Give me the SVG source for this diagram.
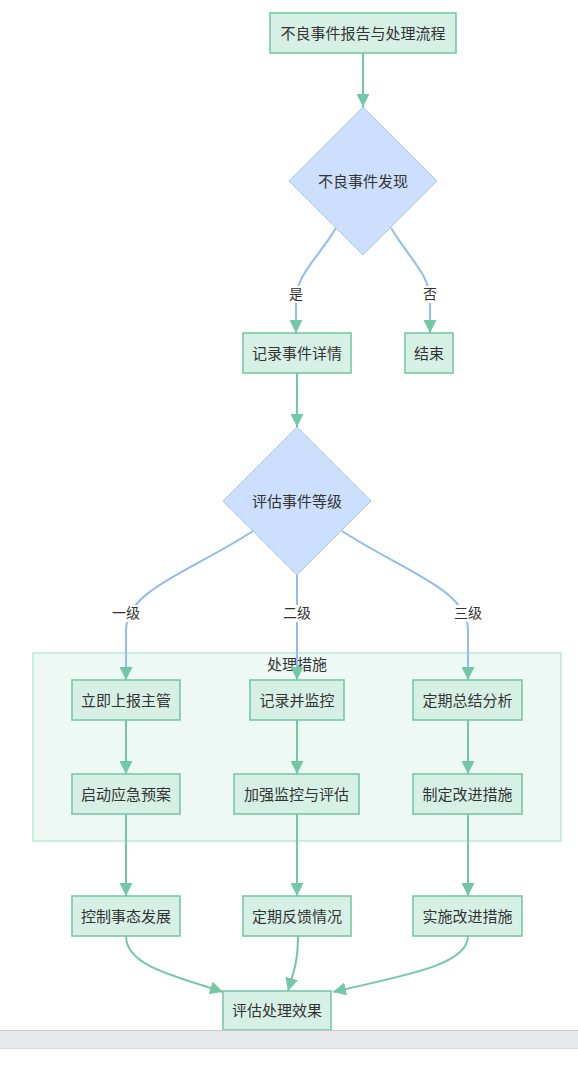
<svg xmlns="http://www.w3.org/2000/svg" width="578" height="1070" viewBox="0 0 578 1070">
<style>
.node rect{fill:#d6f0e6;stroke:#6fc6a2;stroke-width:1.5}
.dec polygon{fill:#cce0fd;stroke:#a6c8f5;stroke-width:1}
text{font-family:"Liberation Sans","Noto Sans CJK SC",sans-serif;font-size:15px;fill:#333;text-anchor:middle;dominant-baseline:central}
.lbl{font-size:14px}
.eb{fill:none;stroke:#8fbcf2;stroke-width:2}
.eg{fill:none;stroke:#72c8a6;stroke-width:2}
.lb{fill:#fff}
</style>
<defs>
<marker id="ah" viewBox="0 0 10 10" refX="10" refY="5" markerWidth="13" markerHeight="13" markerUnits="userSpaceOnUse" orient="auto">
<path d="M0,0 L10,5 L0,10 z" fill="#72c8a6"/>
</marker>
</defs>
<rect width="578" height="1070" fill="#fff"/>
<g id="cluster">
<rect x="33" y="653" width="528" height="188" fill="#eef9f5" stroke="#bde7d5" stroke-width="1.5"/>
<text x="297" y="664">处理措施</text>
</g>
<g id="edges">
<path class="eg" d="M363,53 L363,107" marker-end="url(#ah)"/>
<path class="eb" d="M336,228 C318,258 296,275 296,300 L296,333" marker-end="url(#ah)"/>
<path class="eb" d="M391,228 C409,258 430,275 430,300 L430,333" marker-end="url(#ah)"/>
<path class="eg" d="M297,373 L297,427" marker-end="url(#ah)"/>
<path class="eb" d="M253,531 C190,572 126,590 126,630 L126,680" marker-end="url(#ah)"/>
<path class="eb" d="M297,574 L297,680" marker-end="url(#ah)"/>
<path class="eb" d="M342,531 C405,572 468,590 468,630 L468,680" marker-end="url(#ah)"/>
<path class="eg" d="M126,720 L126,774" marker-end="url(#ah)"/>
<path class="eg" d="M297,720 L297,774" marker-end="url(#ah)"/>
<path class="eg" d="M468,720 L468,774" marker-end="url(#ah)"/>
<path class="eg" d="M126,814 L126,896" marker-end="url(#ah)"/>
<path class="eg" d="M297,814 L297,896" marker-end="url(#ah)"/>
<path class="eg" d="M468,814 L468,896" marker-end="url(#ah)"/>
<path class="eg" d="M126,936 C126,966 175,976 223,992" marker-end="url(#ah)"/>
<path class="eg" d="M298,936 C298,962 293,974 288,991" marker-end="url(#ah)"/>
<path class="eg" d="M468,936 C468,966 400,976 333,992" marker-end="url(#ah)"/>
<rect class="lb" x="287" y="286" width="18" height="17"/>
<text class="lbl" x="296" y="294">是</text>
<rect class="lb" x="421" y="286" width="18" height="17"/>
<text class="lbl" x="430" y="294">否</text>
<rect class="lb" x="110" y="605" width="32" height="17"/>
<text class="lbl" x="126" y="613">一级</text>
<rect class="lb" x="281" y="605" width="32" height="17"/>
<text class="lbl" x="297" y="613">二级</text>
<rect class="lb" x="452" y="605" width="32" height="17"/>
<text class="lbl" x="468" y="613">三级</text>
</g>
<g id="n_title" class="node"><rect x="270" y="13" width="186" height="40"/><text x="363" y="33">不良事件报告与处理流程</text></g>
<g id="n_find" class="dec"><polygon points="363,107 437,181 363,255 289,181"/><text x="363" y="181">不良事件发现</text></g>
<g id="n_record" class="node"><rect x="243" y="333" width="108" height="40"/><text x="297" y="353">记录事件详情</text></g>
<g id="n_end" class="node"><rect x="405" y="333" width="48" height="40"/><text x="429" y="353">结束</text></g>
<g id="n_level" class="dec"><polygon points="297,427 371,501 297,575 223,501"/><text x="297" y="501">评估事件等级</text></g>
<g id="n_a1" class="node"><rect x="72" y="680" width="108" height="40"/><text x="126" y="700">立即上报主管</text></g>
<g id="n_b1" class="node"><rect x="250" y="680" width="94" height="40"/><text x="297" y="700">记录并监控</text></g>
<g id="n_c1" class="node"><rect x="413" y="680" width="109" height="40"/><text x="467.5" y="700">定期总结分析</text></g>
<g id="n_a2" class="node"><rect x="72" y="774" width="108" height="40"/><text x="126" y="794">启动应急预案</text></g>
<g id="n_b2" class="node"><rect x="234" y="774" width="125" height="40"/><text x="296.5" y="794">加强监控与评估</text></g>
<g id="n_c2" class="node"><rect x="413" y="774" width="109" height="40"/><text x="467.5" y="794">制定改进措施</text></g>
<g id="n_a3" class="node"><rect x="72" y="896" width="108" height="40"/><text x="126" y="916">控制事态发展</text></g>
<g id="n_b3" class="node"><rect x="243" y="896" width="108" height="40"/><text x="297" y="916">定期反馈情况</text></g>
<g id="n_c3" class="node"><rect x="413" y="896" width="109" height="40"/><text x="467.5" y="916">实施改进措施</text></g>
<g id="n_eval" class="node"><rect x="223" y="991" width="108" height="39"/><text x="277" y="1010">评估处理效果</text></g>
<rect x="0" y="1030" width="578" height="19" fill="#e6e8eb"/>
<line x1="0" y1="1030.5" x2="578" y2="1030.5" stroke="#c6c8cb"/>
<line x1="0" y1="1048.5" x2="578" y2="1048.5" stroke="#d6d8db"/>
</svg>
